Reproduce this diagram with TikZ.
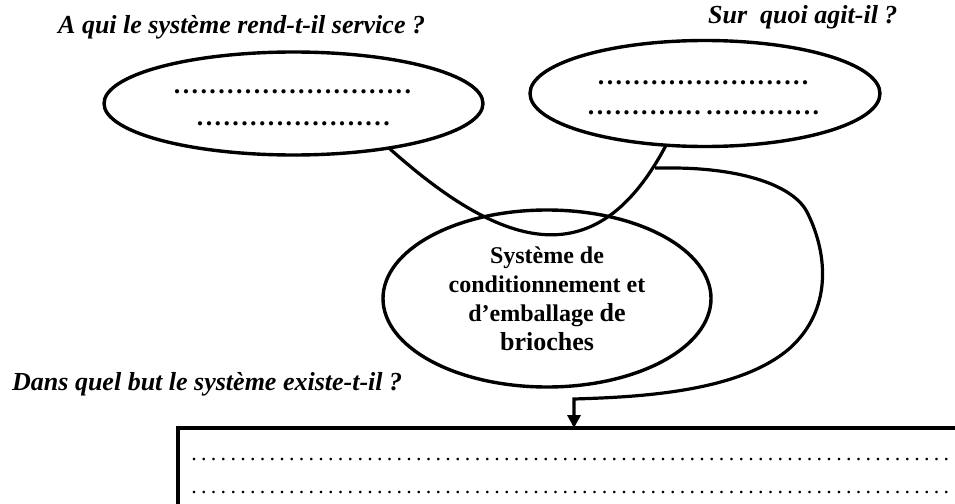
\documentclass[tikz,border=0pt]{standalone}
\usepackage{fontspec}
\setmainfont{Liberation Serif}
\usetikzlibrary{shapes.geometric,arrows.meta}
\newcommand\mydotrow[2]{\begingroup\count255=0 \loop\hbox to #2{\hss.\hss}\advance\count255 by 1\relax\ifnum\count255<#1\repeat\endgroup}
\begin{document}
\begin{tikzpicture}[x=1pt,y=-1pt,
  ell/.style={draw, ellipse, line width=3.4pt, inner sep=0pt, outer sep=0pt},
  question/.style={font=\fontsize{26}{30}\selectfont\bfseries\itshape, inner sep=0pt, anchor=base west},
  bolddots/.style={font=\fontsize{26}{30}\selectfont\bfseries, inner sep=0pt, anchor=base west},
  thindots/.style={font=\fontsize{22}{26}\selectfont, inner sep=0pt, anchor=base west},
  conn/.style={line width=3.2pt},
  boxstyle/.style={draw, rectangle, line width=3.4pt, inner sep=0pt, outer sep=0pt, anchor=north west}]
\useasboundingbox (0,0) rectangle (955,503);
% questions
\node[question] (q1) at (58,34) {A qui le système rend-t-il service ?};
\node[question] (q2) at (708,24) {Sur\ \ quoi agit-il ?};
\node[question] (q3) at (12,390) {Dans quel but le système existe-t-il ?};
% ellipses
\node[ell, minimum width=379pt, minimum height=103pt] (L) at (293.5,103.5) {};
\node[ell, minimum width=350pt, minimum height=106pt] (R) at (705,93.5) {};
\node[ell, minimum width=328pt, minimum height=177pt, align=center,
  font=\fontsize{24}{29}\selectfont\bfseries] (M) at (547,298.5)
  {Système de\\conditionnement et\\d’emballage {\fontsize{26}{29}\selectfont de}\\{\fontsize{26}{29}\selectfont brioches}};
% dots in ellipses
\node[bolddots] (l1) at (172.6,93.8) {\mydotrow{27}{8.87pt}};
\node[bolddots] (l2) at (195.6,125.8) {\mydotrow{22}{8.87pt}};
\node[bolddots] (r1) at (596.6,84.8) {\mydotrow{24}{8.87pt}};
\node[bolddots] (r2) at (586.6,114.8) {\mydotrow{13}{8.87pt}\hspace{3pt}\mydotrow{13}{8.87pt}};
% box
\node[boxstyle, minimum width=790pt, minimum height=120pt] (B) at (178,428) {};
\node[thindots] (b1) at (189.1,460.5) {\mydotrow{78}{9.77pt}};
\node[thindots] (b2) at (189.1,493.5) {\mydotrow{78}{9.77pt}};
% connectors
\draw[conn] (L.-25.4) .. controls (505,252) and (597,276) .. (R.-127.6);
\coordinate (s) at (655,168);
\coordinate (t) at (574,399);
\draw[conn, -{Triangle[width=13pt,length=13pt]}] (s) -- (672,168)
  .. controls (740,168) and (795,185) .. (808,214)
  .. controls (828,255) and (832,310) .. (790,348)
  .. controls (740,392) and (640,397) .. (t) -- (t |- B.north);
\end{tikzpicture}
\end{document}
